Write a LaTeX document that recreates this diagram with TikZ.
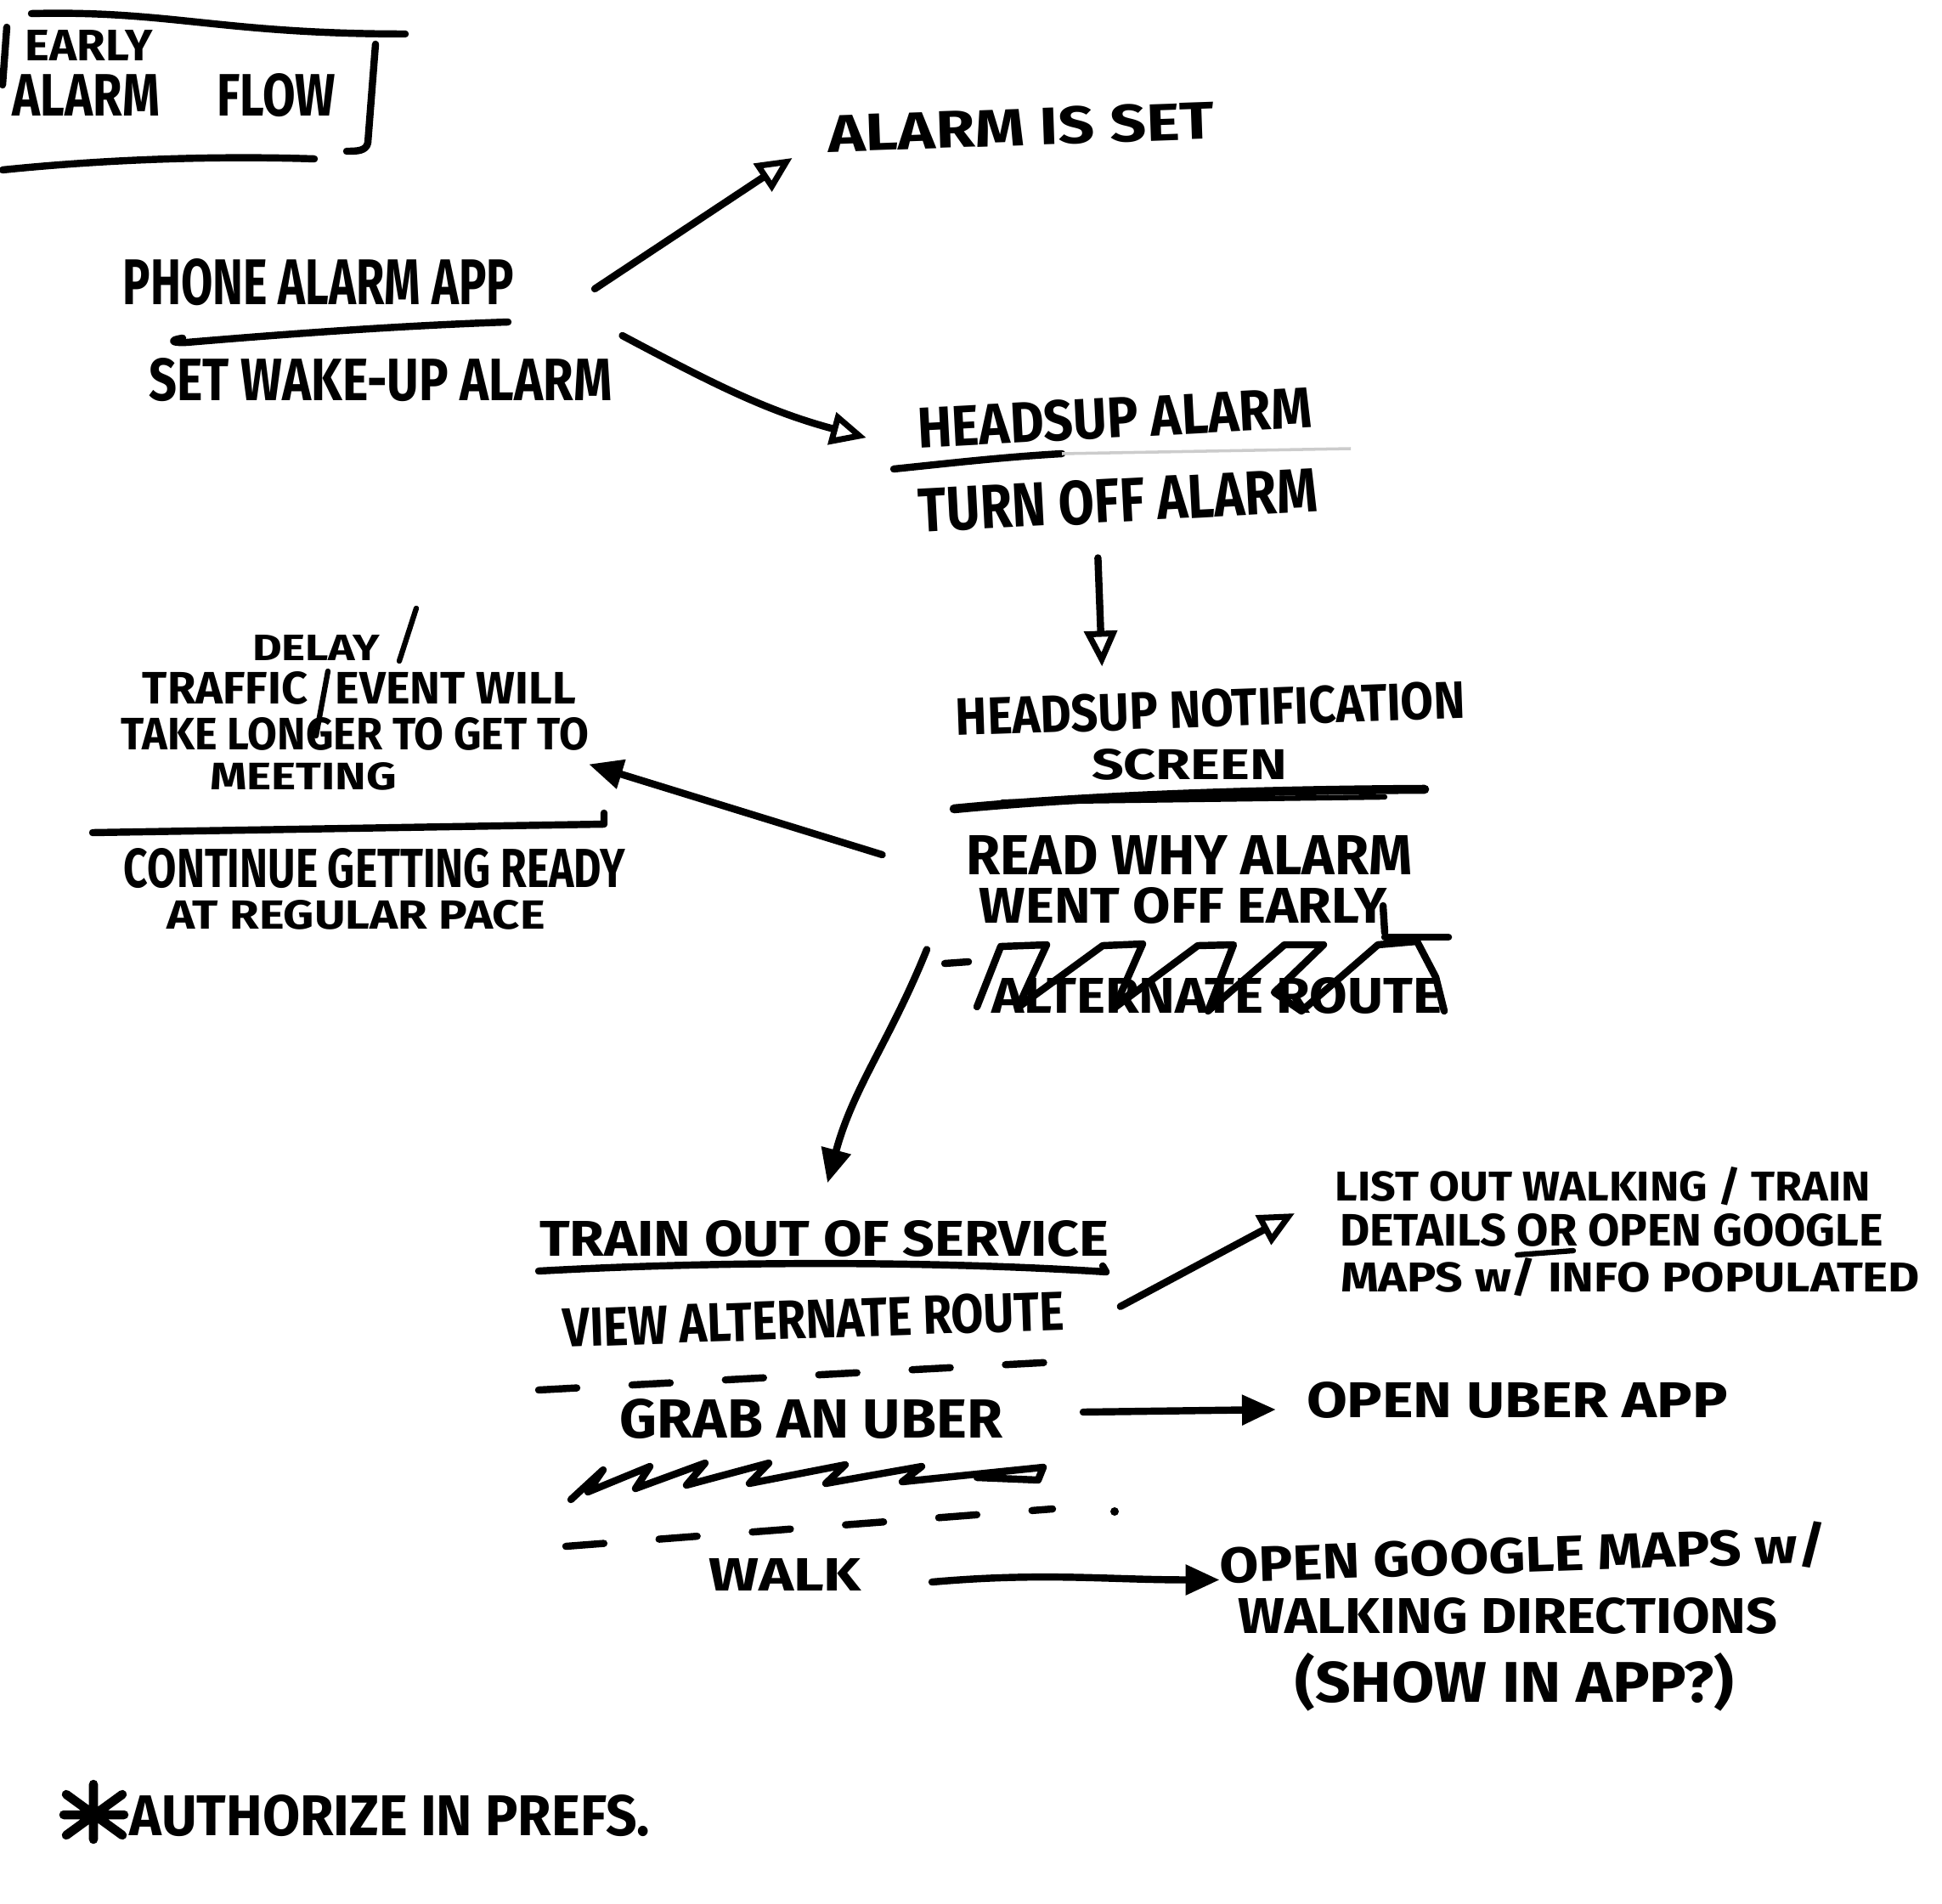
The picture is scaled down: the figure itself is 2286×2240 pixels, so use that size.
\documentclass[tikz,border=0pt]{standalone}
\usepackage{fontspec}
\setmainfont{Fira Sans}
\usepackage{graphicx}
\usetikzlibrary{arrows.meta}
% one drawing unit = 0.01cm
\newlength\pxu
\setlength\pxu{0.01cm}
% marker lettering: text stretched to a given width and cap height
\newcommand\hw[3]{\resizebox{#1\pxu}{#2\pxu}{\bfseries #3}}
\begin{document}
\begin{tikzpicture}[x=0.01cm,y=-0.01cm,
  txt/.style={inner sep=0pt,outer sep=0pt},
  pen/.style={line width=2.4pt,line cap=round,line join=round},
  thin pen/.style={line width=1.8pt,line cap=round,line join=round},
  openhead/.style={-{Triangle[open,length=0.42cm,width=0.38cm,line width=2pt]}},
  solidhead/.style={-{Triangle[length=0.40cm,width=0.34cm]}},
  dashrule/.style={pen,dash pattern=on 0.45cm off 0.65cm}]
\fill[white] (0,0) rectangle (2286,2240);
\useasboundingbox (0,0) rectangle (2286,2240);

% ---- title block
\node[txt] (early) at (105,54) {\hw{150}{36}{EARLY}};
\node[txt] (flow) at (205,112) {\hw{380}{50}{ALARM\hspace{1.2em}FLOW}};
\draw[pen] (8,32) -- (3,100);
\draw[pen] (37,16) .. controls (200,12) and (260,40) .. (477,40);
\draw[pen] (442,52) -- (433,168) .. controls (431,178) and (420,178) .. (408,178);
\draw[pen] (3,200) .. controls (120,188) and (250,183) .. (370,187);

% ---- phone alarm app
\node[txt] (phone) at (375,332) {\hw{460}{54}{PHONE ALARM APP}};
\draw[pen] (215,398) .. controls (200,400) and (200,404) .. (220,403) .. controls (350,392) and (480,383) .. (598,379);
\node[txt] (setwake) at (448,447) {\hw{545}{50}{SET WAKE-UP ALARM}};

\node[txt,rotate=2] (alarmset) at (1202,150) {\hw{455}{44}{ALARM IS SET}};
\draw[pen,openhead] ([shift={(95,8)}]phone.east) -- ([shift={(-42,28)}]alarmset.west);

% ---- headsup alarm
\node[txt,rotate=3] (hdalarm) at (1312,492) {\hw{465}{48}{HEADSUP ALARM}};
\draw[pen] (1052,552) .. controls (1120,545) and (1180,538) .. (1250,534);
\draw[line width=1pt,gray!40] (1250,534) -- (1590,528);
\node[txt,rotate=3] (turnoff) at (1316,589) {\hw{470}{52}{TURN OFF ALARM}};
\draw[pen,openhead] ([shift={(12,-52)}]setwake.east) to[out=-28,in=165] ([shift={(-60,11)}]hdalarm.west);

% ---- headsup notification screen
\node[txt,rotate=2] (notif) at (1425,834) {\hw{600}{44}{HEADSUP NOTIFICATION}};
\node[txt] (screen) at (1400,900) {\hw{230}{36}{SCREEN}};
\draw[pen,openhead] ([shift={(-25,41)}]turnoff.south) -- ([shift={(-127,-27)}]notif.north);
\draw[line width=3pt,line cap=round] (1123,952) .. controls (1300,935) and (1500,930) .. (1677,929);
\draw[thin pen] (1180,944) -- (1630,938);
\node[txt] (readwhy) at (1400,1006) {\hw{525}{46}{READ WHY ALARM}};
\node[txt] (wentoff) at (1393,1066) {\hw{480}{42}{WENT OFF EARLY}};
\draw[pen] (1628,1066) -- (1630,1098);

% crossed-out line under the notification screen
\node[txt] (altroute) at (1432,1172) {\hw{530}{42}{ALTERNATE ROUTE}};
\draw[pen] (1112,1134) -- (1140,1132);
\draw[pen] (1630,1103) -- (1705,1103);
\draw[pen] (1150,1185) -- (1178,1114) -- (1232,1112) -- (1198,1186) -- (1298,1113) -- (1345,1111)
  -- (1312,1186) -- (1410,1113) -- (1452,1112) -- (1422,1190) -- (1512,1112) -- (1558,1112)
  -- (1500,1168) -- (1532,1190) -- (1622,1112) -- (1668,1108) -- (1690,1150) -- (1700,1190);

% ---- delay branch
\node[txt] (delay) at (372,762) {\hw{150}{30}{DELAY}};
\node[txt] (traffic) at (423,810) {\hw{510}{38}{TRAFFIC\hspace{0.6em}EVENT WILL}};
\node[txt] (longer) at (418,864) {\hw{550}{38}{TAKE LONGER TO GET TO}};
\node[txt] (meeting) at (357,914) {\hw{220}{32}{MEETING}};
\draw[thin pen] (490,716) -- (470,778);
\draw[thin pen] (386,790) -- (372,866);
\draw[pen] (109,980) -- (711,970) -- (711,957);
\node[txt] (continue) at (441,1022) {\hw{590}{46}{CONTINUE GETTING READY}};
\node[txt] (pace) at (419,1077) {\hw{445}{34}{AT REGULAR PACE}};
\draw[pen,solidhead] ([shift={(-99,0)}]readwhy.west) -- ([shift={(0,16)}]longer.south east);

% ---- train out of service
\node[txt] (train) at (970,1458) {\hw{670}{42}{TRAIN OUT OF SERVICE}};
\draw[pen,solidhead] ([shift={(-62,30)}]wentoff.south west) to[out=-112,in=75] ([shift={(4,-44)}]train.north);
\draw[pen] (634,1496) .. controls (850,1484) and (1100,1484) .. (1302,1497) -- (1298,1490);
\node[txt,rotate=2] (viewalt) at (958,1553) {\hw{590}{46}{VIEW ALTERNATE ROUTE}};
\draw[dashrule] (634,1636) -- (1280,1601);
\node[txt] (grab) at (955,1670) {\hw{450}{46}{GRAB AN UBER}};
\draw[pen] (672,1765) -- (710,1730) -- (692,1756) -- (765,1726) -- (748,1752) -- (830,1722)
  -- (808,1748) -- (905,1722) -- (882,1746) -- (995,1724) -- (972,1746) -- (1085,1726)
  -- (1062,1744) -- (1228,1727) -- (1222,1742) -- (1150,1739);
\draw[dashrule] (666,1820) -- (1239,1776);
\fill (1312,1779) circle (5);
\node[txt] (walk) at (924,1853) {\hw{180}{38}{WALK}};

% ---- alternatives
\node[txt] (listout) at (1887,1396) {\hw{630}{40}{LIST OUT WALKING / TRAIN}};
\node[txt] (details) at (1897,1448) {\hw{640}{38}{DETAILS OR OPEN GOOGLE}};
\node[txt] (maps) at (1919,1503) {\hw{682}{40}{MAPS w/ INFO POPULATED}};
\draw[thin pen] (1786,1477) -- (1852,1472);
\draw[pen,openhead] ([shift={(66,-5)}]viewalt.east) -- ([shift={(-48,32)}]listout.west);

\node[txt] (openuber) at (1786,1648) {\hw{496}{42}{OPEN UBER APP}};
\draw[pen,solidhead] ([shift={(95,-8)}]grab.east) -- ([shift={(-36,11)}]openuber.west);

\node[txt,rotate=2] (opengoogle) at (1793,1830) {\hw{715}{48}{OPEN GOOGLE MAPS w/}};
\node[txt] (walkdir) at (1775,1902) {\hw{635}{42}{WALKING DIRECTIONS}};
\node[txt] (showapp) at (1783,1980) {\hw{517}{58}{(SHOW IN APP?)}};
\draw[pen,solidhead] ([shift={(83,9)}]walk.east) to[out=5,in=180] ([shift={(0,17)}]opengoogle.west);

% ---- footnote
\node[txt] (prefs) at (459,2137) {\hw{612}{48}{AUTHORIZE IN PREFS.}};
\draw[line width=3pt,line cap=round] (110,2100) -- (110,2165) (78,2112) -- (144,2160)
  (78,2160) -- (144,2112) (75,2136) -- (146,2136);
\end{tikzpicture}
\end{document}
